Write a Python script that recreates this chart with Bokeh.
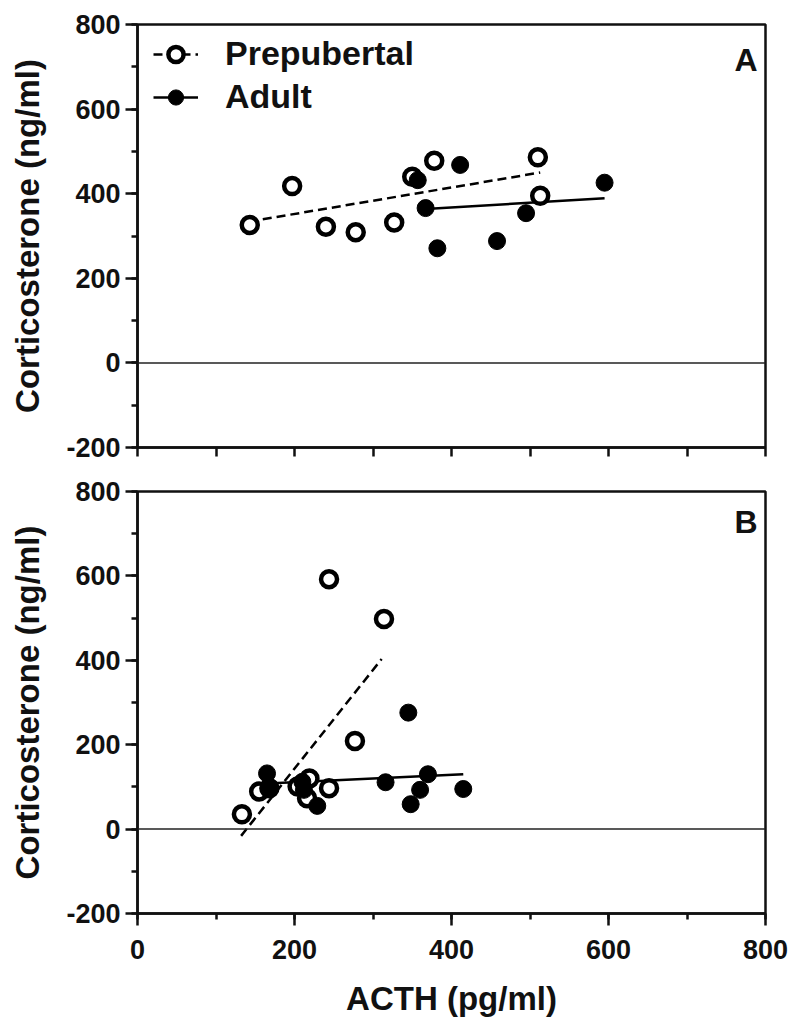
from bokeh.plotting import figure
from bokeh.layouts import column
from bokeh.models import Span, Label, Legend, LegendItem, SingleIntervalTicker, FixedTicker, Range1d
from bokeh.embed import file_html
from bokeh.resources import INLINE

# ---- data ----
pre_a_x = [143, 197, 240, 278, 327, 350, 378, 510, 513]
pre_a_y = [326, 418, 322, 309, 332, 440, 478, 486, 395]
adu_a_x = [357, 367, 382, 411, 458, 495, 595]
adu_a_y = [432, 366, 271, 468, 288, 354, 426]

pre_b_x = [133, 155, 168, 204, 216, 219, 244, 244, 277, 314]
pre_b_y = [35, 89, 97, 101, 73, 120, 97, 592, 209, 498]
adu_b_x = [165, 168, 210, 212, 229, 316, 345, 348, 360, 370, 415]
adu_b_y = [132, 100, 112, 93, 55, 111, 276, 59, 93, 130, 95]

fit_pre_a_x = [142, 513]
fit_pre_a_y = [334, 450]
fit_adu_a_x = [367, 595]
fit_adu_a_y = [364, 389]
fit_pre_b_x = [132, 311]
fit_pre_b_y = [-16, 403]
fit_adu_b_x = [165, 415]
fit_adu_b_y = [108, 130]

x_ticks = [0, 200, 400, 600, 800]
x_minor = [0, 100, 200, 300, 400, 500, 600, 700, 800]
y_ticks = [-200, 0, 200, 400, 600, 800]
y_tick_labels = ["-200", "0", "200", "400", "600", "800"]

FONT = "Liberation Sans"
TICK_SIZE = "27px"
LABEL_SIZE = "33px"


def style_axis(ax):
    ax.axis_line_width = 2.5
    ax.axis_line_color = "#111111"
    ax.major_tick_line_width = 2.5
    ax.minor_tick_line_width = 2.5
    ax.major_tick_line_color = "#111111"
    ax.minor_tick_line_color = "#111111"
    ax.major_tick_in = 0
    ax.minor_tick_in = 0
    ax.major_tick_out = 12
    ax.minor_tick_out = 6
    ax.major_label_text_font = FONT
    ax.major_label_text_font_style = "bold"
    ax.major_label_text_font_size = TICK_SIZE
    ax.major_label_text_color = "#111111"
    ax.axis_label_text_font = FONT
    ax.axis_label_text_font_style = "bold"
    ax.axis_label_text_font_size = LABEL_SIZE
    ax.axis_label_text_color = "#111111"


def make_panel(height, border_top, border_bottom, show_x_labels):
    p = figure(width=792, height=height, output_backend="svg", toolbar_location=None,
               x_range=Range1d(0, 800), y_range=Range1d(-200, 800),
               min_border_left=137, min_border_right=27,
               min_border_top=border_top, min_border_bottom=border_bottom)
    p.xgrid.visible = False
    p.ygrid.visible = False
    p.outline_line_color = "#111111"
    p.outline_line_width = 2.5
    p.background_fill_color = "white"
    p.border_fill_color = "white"
    style_axis(p.xaxis[0])
    style_axis(p.yaxis[0])
    p.yaxis.ticker = SingleIntervalTicker(interval=200, num_minor_ticks=2)
    p.yaxis.major_label_overrides = dict(zip(y_ticks, y_tick_labels))
    p.yaxis.major_label_standoff = 5
    p.yaxis.axis_label = "Corticosterone (ng/ml)"
    p.yaxis.axis_label_standoff = 17
    if show_x_labels:
        p.xaxis.ticker = FixedTicker(ticks=x_ticks, minor_ticks=x_minor)
        p.xaxis.axis_label = "ACTH (pg/ml)"
        p.xaxis.major_label_standoff = 14
        p.xaxis.axis_label_standoff = 18
    else:
        # ticks only, no labels on the upper panel
        p.xaxis.ticker = FixedTicker(ticks=[], minor_ticks=x_minor)
        p.xaxis.minor_tick_out = 9
    p.add_layout(Span(location=0, dimension="width", line_color="#222222", line_width=1.5))
    return p


def draw(p, px, py, ax_, ay, fpx, fpy, fax, fay):
    lp = p.line(fpx, fpy, line_color="black", line_width=2.5, line_dash="9 5")
    la = p.line(fax, fay, line_color="black", line_width=2.5)
    sp = p.scatter(px, py, marker="circle", size=16, fill_color="white",
                   line_color="black", line_width=4.5)
    sa = p.scatter(ax_, ay, marker="circle", size=17, fill_color="black",
                   line_color="black", line_width=1)
    return lp, la, sp, sa


pA = make_panel(467, 24, 20, False)
lp, la, sp, sa = draw(pA, pre_a_x, pre_a_y, adu_a_x, adu_a_y,
                      fit_pre_a_x, fit_pre_a_y, fit_adu_a_x, fit_adu_a_y)
legend = Legend(items=[LegendItem(label="Prepubertal", renderers=[lp, sp]),
                       LegendItem(label="Adult", renderers=[la, sa])],
                location=(16, 331), padding=4, spacing=4,
                label_height=38, glyph_height=38, glyph_width=45,
                label_standoff=27, border_line_color=None,
                background_fill_alpha=0,
                label_text_font=FONT, label_text_font_style="bold",
                label_text_font_size="34px", label_text_color="#111111")
pA.add_layout(legend)
pA.add_layout(Label(x=790, y=717, text="A", text_align="right", text_baseline="middle",
                    text_font=FONT, text_font_style="bold", text_font_size="32px",
                    text_color="#111111"))

pB = make_panel(552, 24, 104, True)
draw(pB, pre_b_x, pre_b_y, adu_b_x, adu_b_y,
     fit_pre_b_x, fit_pre_b_y, fit_adu_b_x, fit_adu_b_y)
pB.add_layout(Label(x=790, y=727, text="B", text_align="right", text_baseline="middle",
                    text_font=FONT, text_font_style="bold", text_font_size="32px",
                    text_color="#111111"))

layout = column(pA, pB, spacing=0)
open("out.html", "w").write(file_html(layout, INLINE))
